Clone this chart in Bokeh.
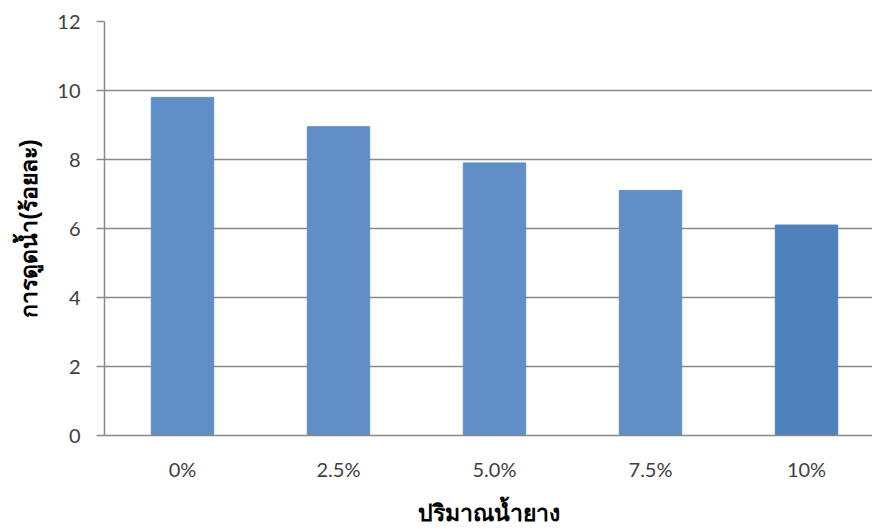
from bokeh.plotting import figure
from bokeh.models import Range1d, FixedTicker, ColumnDataSource
from bokeh.embed import file_html
from bokeh.resources import INLINE

categories = ["0%", "2.5%", "5.0%", "7.5%", "10%"]
values = [9.8, 8.95, 7.9, 7.1, 6.1]
colors = ["#5F8FC6", "#5F8FC6", "#5F8FC6", "#5F8FC6", "#4F81BD"]
y_ticks = [0, 2, 4, 6, 8, 10, 12]

xpos = [i + 0.5 for i in range(len(categories))]
src = ColumnDataSource(dict(x=xpos, top=values, color=colors))

p = figure(width=872, height=529, output_backend="svg", toolbar_location=None,
           x_range=Range1d(0, 4.923), y_range=Range1d(0, 12),
           min_border_left=104, min_border_right=0, min_border_top=21, min_border_bottom=94)
p.outline_line_color = None
p.vbar(x="x", top="top", width=0.4, bottom=0, color="color", source=src)

p.xaxis.ticker = FixedTicker(ticks=xpos)
p.xaxis.major_label_overrides = {x: c for x, c in zip(xpos, categories)}
p.yaxis.ticker = FixedTicker(ticks=y_ticks)

for ax in [p.xaxis[0], p.yaxis[0]]:
    ax.axis_line_color = "#898989"
    ax.axis_line_width = 1.5
    ax.major_label_text_font = "Lato"
    ax.major_label_text_font_size = "20px"
    ax.major_label_text_color = "#404040"
    ax.minor_tick_line_color = None
    ax.axis_label_text_font_style = "bold"
    ax.axis_label_text_font_size = "23px"
    ax.axis_label_text_color = "#000000"

p.xaxis.major_tick_line_color = None
p.xaxis.major_label_standoff = 15
p.xaxis.axis_label = "ปริมาณน้ำยาง"
p.xaxis.axis_label_standoff = 16
p.yaxis.major_tick_line_color = "#898989"
p.yaxis.major_tick_line_width = 1.5
p.yaxis.major_tick_out = 8
p.yaxis.major_tick_in = 0
p.yaxis.major_label_standoff = 16
p.yaxis.axis_label = "การดูดน้ำ(ร้อยละ)"
p.yaxis.axis_label_standoff = 12

p.xgrid.grid_line_color = None
p.ygrid.grid_line_color = "#898989"
p.ygrid.grid_line_width = 1.5

open("out.html", "w").write(file_html(p, INLINE))
